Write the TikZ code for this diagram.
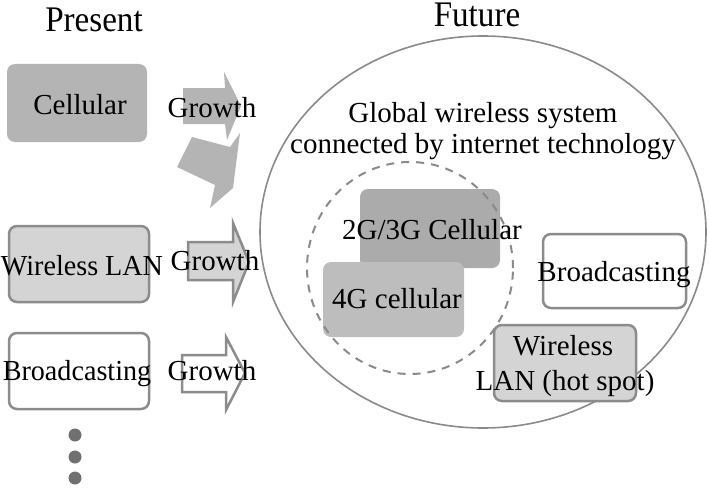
\documentclass[tikz,border=0pt]{standalone}
\usepackage{fontspec}
\setmainfont{Liberation Serif}
\usetikzlibrary{shapes.geometric}
\definecolor{bordergray}{HTML}{8C8C8C}
\definecolor{darkfill}{HTML}{ABABAB}
\definecolor{midfill}{HTML}{B4B4B4}
\definecolor{fourgfill}{HTML}{BDBDBD}
\definecolor{lightfill}{HTML}{D4D4D4}
\definecolor{dotgray}{HTML}{707070}
\definecolor{ringgray}{HTML}{8A8A8A}
\begin{document}
\begin{tikzpicture}[x=1pt,y=-1pt,
  boxshape/.style={rectangle, rounded corners=8pt, inner sep=0pt, outer sep=0pt},
  framed/.style={boxshape, draw=bordergray, line width=2.5pt},
  txt/.style={anchor=base, inner sep=0pt, font=\fontsize{29}{34}\selectfont},
  ttl/.style={anchor=base, inner sep=0pt, font=\fontsize{36}{40}\selectfont},
  growtharrow/.style={line width=2.5pt, line join=miter},
  dotmark/.style={circle, fill=dotgray, minimum size=13pt, inner sep=0pt}]
\useasboundingbox (0,0) rectangle (709,495);

% titles
\node[ttl] (present) at (94,32) {\scalebox{0.92}[1]{Present}};
\node[ttl] (future) at (477,27) {\scalebox{0.92}[1]{Future}};

% big ellipse
\node[ellipse, draw=ringgray, line width=1.6pt, minimum width=446pt, minimum height=392pt, inner sep=0pt] (world) at (483,232) {};

% present boxes
\node[boxshape, fill=midfill, minimum width=140pt, minimum height=78pt] (cellbox) at (77,103) {};
\node[framed, fill=lightfill, minimum width=140pt, minimum height=76pt] (wlanbox) at (79,264) {};
\node[framed, fill=white, minimum width=140pt, minimum height=76pt] (bcbox) at (79,371) {};

% growth arrows
\fill[midfill] (183,88) -- (225,88) -- (224,72) -- (241,106) -- (227,140) -- (225,124) -- (183,124) -- cycle;
\fill[midfill] (192,137) -- (230,147) -- (240,133) -- (233,188) -- (210,208) -- (215,185) -- (177,167) -- cycle;
\filldraw[growtharrow, fill=lightfill, draw=bordergray] (188,242) -- (233,242) -- (233,223) -- (249,262) -- (233,302) -- (233,280) -- (188,280) -- cycle;
\filldraw[growtharrow, fill=white, draw=bordergray] (182,355) -- (226,355) -- (226,337) -- (245,373) -- (226,410) -- (226,392) -- (182,392) -- cycle;

% dots
\node[dotmark] (d1) at (75,435) {};
\node[dotmark] (d2) at (75,457) {};
\node[dotmark] (d3) at (75,478) {};

% future boxes
\node[boxshape, fill=darkfill, minimum width=140pt, minimum height=79pt] (cell23) at (430,228.5) {};
\node[boxshape, fill=fourgfill, minimum width=141pt, minimum height=75pt] (cell4) at (393.5,299.5) {};
\node[ellipse, draw=ringgray, dashed, dash pattern=on 8pt off 7pt, line width=2pt, minimum width=206pt, minimum height=212pt, inner sep=0pt] (core) at (410,268) {};
\node[framed, fill=white, minimum width=143pt, minimum height=74pt] (bcright) at (614.5,271) {};
\node[framed, fill=lightfill, minimum width=142pt, minimum height=76pt] (hotspot) at (565,363) {};

% texts
\node[txt] (tcell) at (80,114) {Cellular};
\node[txt] (g1) at (212,117) {Growth};
\node[txt] (twlan) at (82,275) {\scalebox{0.97}[1]{Wireless LAN}};
\node[txt] (g2) at (215,270) {Growth};
\node[txt] (tbc) at (77,380) {\scalebox{0.97}[1]{Broadcasting}};
\node[txt] (g3) at (212,380) {Growth};
\node[txt] (glob1) at (483,122) {Global wireless system};
\node[txt] (glob2) at (483,153) {connected by internet technology};
\node[txt] (t23) at (432,239) {2G/3G Cellular};
\node[txt] (t4) at (397,308) {4G cellular};
\node[txt] (tbcr) at (614,281) {Broadcasting};
\node[txt] (thot1) at (563,355) {Wireless};
\node[txt] (thot2) at (565,390) {LAN (hot spot)};
\end{tikzpicture}
\end{document}
